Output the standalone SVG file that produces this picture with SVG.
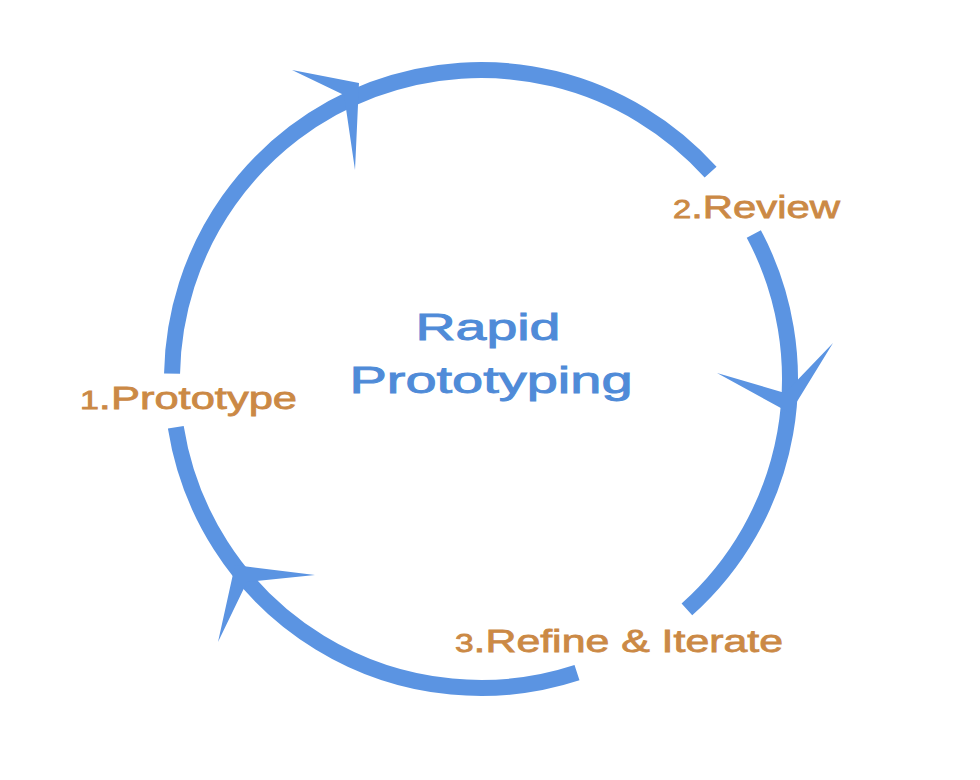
<svg xmlns="http://www.w3.org/2000/svg" width="980" height="780" viewBox="0 0 980 780">
  <style>
    .ring { fill: none; stroke: #5b94e2; stroke-width: 16; stroke-linecap: butt; }
    .head { fill: #5b94e2; stroke: none; }
    .step { font-family: "Liberation Sans", Arial, sans-serif; font-size: 32px; fill: #cb8945; stroke: #cb8945; stroke-width: 0.8; }
    .num { font-size: 25px; }
    .title { font-family: "Liberation Sans", Arial, sans-serif; font-size: 37px; fill: #4f8bd8; stroke: #4f8bd8; stroke-width: 0.9; text-anchor: middle; }
  </style>
  <rect width="980" height="780" fill="#ffffff"/>
  <g id="connectors">
    <path class="ring" d="M 172.05 373.6 A 309 309 0 0 1 710.6 172.2"/>
    <path class="ring" d="M 753.8 233.9 A 309 309 0 0 1 686.9 609.4"/>
    <path class="ring" d="M 577.0 672.7 A 309 309 0 0 1 175.8 427.3"/>
    <polygon class="head" points="359,83 292,70 344,95 355,170"/>
    <polygon class="head" points="790,413 717,373 785,393 833,343"/>
    <polygon class="head" points="235,565 315,575 247,582 218,642"/>
  </g>
  <g id="center">
    <text class="title" x="488" y="340" textLength="145" lengthAdjust="spacingAndGlyphs">Rapid</text>
    <text class="title" x="491" y="393" textLength="283" lengthAdjust="spacingAndGlyphs">Prototyping</text>
  </g>
  <g id="step1">
    <text class="step" x="80" y="409" textLength="217" lengthAdjust="spacingAndGlyphs"><tspan class="num">1</tspan>.Prototype</text>
  </g>
  <g id="step2">
    <text class="step" x="673" y="218" textLength="167" lengthAdjust="spacingAndGlyphs"><tspan class="num">2</tspan>.Review</text>
  </g>
  <g id="step3">
    <text class="step" x="455" y="652" textLength="328" lengthAdjust="spacingAndGlyphs"><tspan class="num">3</tspan>.Refine &amp; Iterate</text>
  </g>
</svg>
